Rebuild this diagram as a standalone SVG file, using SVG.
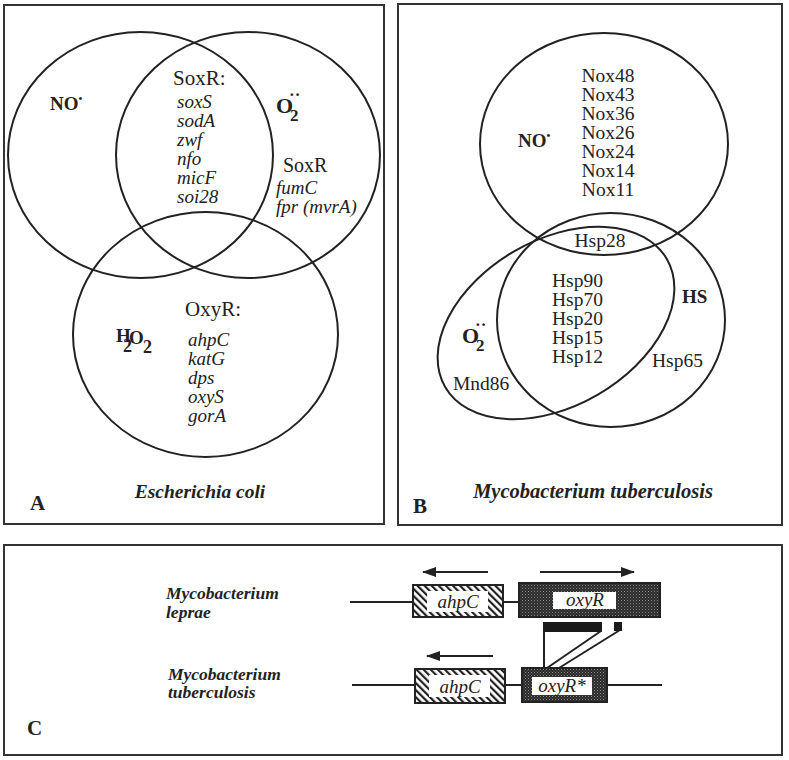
<svg xmlns="http://www.w3.org/2000/svg" width="789" height="760" viewBox="0 0 789 760">
<defs>
<style>
.frame{fill:none;stroke:#333;stroke-width:2}
.set{fill:none;stroke:#222;stroke-width:2}
.t{font-family:"Liberation Serif","Times New Roman",serif;fill:#222}
.r{font-size:20px}
.i{font-size:19px;font-style:italic}
.b{font-size:19px;font-weight:bold}
.sp{font-size:19.5px;font-weight:bold;font-style:italic}
.lab{font-size:21px;font-weight:bold}
.ln{stroke:#222;stroke-width:2;fill:none}
</style>
<pattern id="hatch" patternUnits="userSpaceOnUse" width="5" height="5" patternTransform="rotate(-45)">
<rect width="5" height="5" fill="#fff"/>
<rect x="0" y="0" width="2.2" height="5" fill="#222"/>
</pattern>
<pattern id="stip" patternUnits="userSpaceOnUse" width="3" height="3">
<rect width="3" height="3" fill="#2a2a2a"/>
<rect x="0" y="0" width="1" height="1" fill="#8a8a8a"/>
<rect x="1.5" y="1.5" width="1" height="1" fill="#6a6a6a"/>
</pattern>
<marker id="ah" viewBox="0 0 14 10" refX="13" refY="5" markerWidth="14" markerHeight="10" markerUnits="userSpaceOnUse" orient="auto">
<path d="M0,0 L14,5 L0,10 Z" fill="#222"/>
</marker>
</defs>
<rect width="789" height="760" fill="#fff"/>

<!-- Panel A -->
<g id="panelA">
<rect class="frame" x="4" y="5" width="380" height="519"/>
<g id="setNO_A"><ellipse class="set" cx="140.5" cy="155" rx="132.5" ry="123"/>
<text class="t b" x="50" y="110">NO<tspan style="font-size:11px" dy="-8">•</tspan></text></g>
<g id="setO2_A"><ellipse class="set" cx="248" cy="155" rx="132" ry="123"/>
<text class="t b" style="font-size:22px"><tspan x="276" y="113">O</tspan><tspan x="290" y="121" style="font-size:17px">2</tspan><tspan x="289" y="100" style="font-size:17px">··</tspan></text></g>
<g id="setH2O2_A"><ellipse class="set" cx="205.5" cy="334.5" rx="132.5" ry="122.5"/>
<text class="t b"><tspan x="116" y="342">H</tspan><tspan x="123" y="352" style="font-size:18px">2</tspan><tspan x="129" y="344">O</tspan><tspan x="143" y="353" style="font-size:18px">2</tspan></text></g>
<g id="soxR_shared">
<text class="t r" x="173" y="85" style="font-size:21px">SoxR:</text>
<text class="t i"><tspan x="177" y="108">soxS</tspan><tspan x="177" y="127">sodA</tspan><tspan x="177" y="146">zwf</tspan><tspan x="177" y="165">nfo</tspan><tspan x="177" y="184">micF</tspan><tspan x="177" y="203">soi28</tspan></text>
</g>
<g id="soxR_O2">
<text class="t r" x="283" y="172">SoxR</text>
<text class="t i"><tspan x="276" y="194">fumC</tspan><tspan x="276" y="213">fpr (mvrA)</tspan></text>
</g>
<g id="oxyR_A">
<text class="t r" x="185" y="316" style="font-size:21px">OxyR:</text>
<text class="t i"><tspan x="188" y="346">ahpC</tspan><tspan x="188" y="365">katG</tspan><tspan x="188" y="384">dps</tspan><tspan x="188" y="403">oxyS</tspan><tspan x="188" y="422">gorA</tspan></text>
</g>
<text class="t sp" x="200" y="498" text-anchor="middle">Escherichia coli</text>
<text class="t lab" x="30" y="510">A</text>
</g>

<!-- Panel B -->
<g id="panelB">
<rect class="frame" x="398" y="4" width="384" height="521"/>
<g id="setNO_B"><ellipse class="set" cx="604" cy="144" rx="124" ry="111"/>
<text class="t b" x="518" y="147">NO<tspan style="font-size:11px" dy="-8">•</tspan></text>
<text class="t r" text-anchor="middle" style="font-size:19.5px"><tspan x="608" y="82">Nox48</tspan><tspan x="608" y="101">Nox43</tspan><tspan x="608" y="120">Nox36</tspan><tspan x="608" y="139">Nox26</tspan><tspan x="608" y="158">Nox24</tspan><tspan x="608" y="177">Nox14</tspan><tspan x="608" y="196">Nox11</tspan></text></g>
<g id="setHS_B"><ellipse class="set" cx="611" cy="320" rx="114" ry="107"/>
<text class="t b" x="682" y="303">HS</text>
<text class="t r" x="652" y="367" style="font-size:19.5px">Hsp65</text></g>
<g id="setO2_B"><ellipse class="set" cx="556" cy="323" rx="128" ry="83" transform="rotate(-30 556 323)"/>
<text class="t b" style="font-size:22px"><tspan x="462" y="343">O</tspan><tspan x="476" y="351" style="font-size:17px">2</tspan><tspan x="475" y="330" style="font-size:17px">··</tspan></text>
<text class="t r" x="453" y="390" style="font-size:19.5px">Mnd86</text></g>
<text class="t r" x="600" y="247" text-anchor="middle" style="font-size:19.5px">Hsp28</text>
<text class="t r" style="font-size:19.5px"><tspan x="552" y="287">Hsp90</tspan><tspan x="552" y="306">Hsp70</tspan><tspan x="552" y="325">Hsp20</tspan><tspan x="552" y="344">Hsp15</tspan><tspan x="552" y="363">Hsp12</tspan></text>
<text class="t sp" x="593" y="498" text-anchor="middle" style="font-size:20.5px">Mycobacterium tuberculosis</text>
<text class="t lab" x="413" y="513">B</text>
</g>

<!-- Panel C -->
<g id="panelC">
<rect class="frame" x="4" y="545" width="778" height="210"/>
<text class="t lab" x="27" y="735">C</text>
<text class="t sp" style="font-size:17.5px"><tspan x="166" y="599">Mycobacterium</tspan><tspan x="166" y="618">leprae</tspan></text>
<text class="t sp" style="font-size:17.5px"><tspan x="168" y="680">Mycobacterium</tspan><tspan x="168" y="698">tuberculosis</tspan></text>
</g>

<g id="connectors">
<line class="ln" x1="350" y1="602" x2="413" y2="602"/>
<line class="ln" x1="503" y1="602" x2="519" y2="602"/>
<line class="ln" x1="352" y1="685" x2="415" y2="685"/>
<line class="ln" x1="505" y1="685" x2="522" y2="685"/>
<line class="ln" x1="607" y1="685" x2="662" y2="685"/>
<line class="ln" x1="488" y1="572" x2="423" y2="572" stroke-width="2.5" marker-end="url(#ah)"/>
<line class="ln" x1="540" y1="572" x2="634" y2="572" stroke-width="2.5" marker-end="url(#ah)"/>
<line class="ln" x1="493" y1="656" x2="427" y2="656" stroke-width="2.5" marker-end="url(#ah)"/>
<rect x="543" y="622" width="59" height="10" fill="#1a1a1a"/>
<rect x="614" y="622" width="8" height="9" fill="#1a1a1a"/>
<line class="ln" x1="544" y1="631" x2="544" y2="668"/>
<line class="ln" x1="601" y1="631" x2="547" y2="668" stroke-width="3"/>
<line class="ln" x1="620" y1="630" x2="559" y2="668" stroke-width="3.5"/>
</g>

<g id="gene_ahpC_lep">
<rect x="413" y="585" width="90" height="32" fill="url(#hatch)" stroke="#222" stroke-width="2"/>
<rect x="427" y="591" width="61" height="21" fill="#fff"/>
<text class="t i" x="458" y="608" text-anchor="middle">ahpC</text>
</g>
<g id="gene_oxyR_lep">
<rect x="519" y="583" width="141" height="34" fill="url(#stip)" stroke="#222" stroke-width="2"/>
<rect x="553" y="592" width="63" height="17" fill="#fff"/>
<text class="t i" x="585" y="606" text-anchor="middle">oxyR</text>
</g>
<g id="gene_ahpC_tb">
<rect x="415" y="669" width="90" height="34" fill="url(#hatch)" stroke="#222" stroke-width="2"/>
<rect x="429" y="675" width="61" height="22" fill="#fff"/>
<text class="t i" x="460" y="693" text-anchor="middle">ahpC</text>
</g>
<g id="gene_oxyR_tb">
<rect x="522" y="668" width="85" height="34" fill="url(#stip)" stroke="#222" stroke-width="2"/>
<rect x="532" y="677" width="60" height="18" fill="#fff"/>
<text class="t i" x="562" y="692" text-anchor="middle">oxyR*</text>
</g>
</svg>
